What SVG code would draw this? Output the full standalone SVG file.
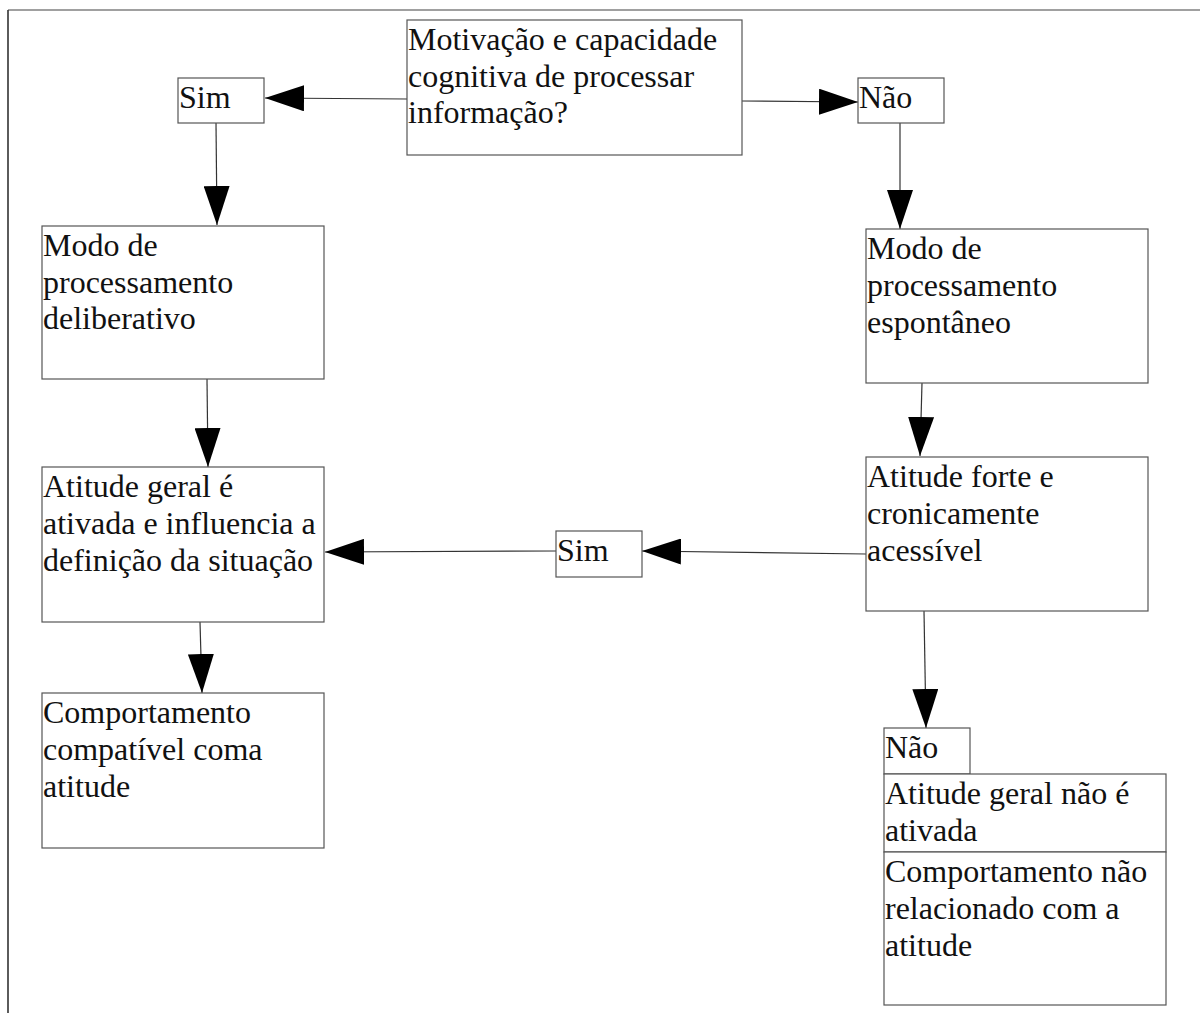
<svg xmlns="http://www.w3.org/2000/svg" width="1200" height="1013" viewBox="0 0 1200 1013">
<style>
.box{fill:#fff;stroke:#555;stroke-width:1.2}
.t{font-family:"Liberation Serif","Times New Roman",serif;font-size:32px;fill:#111}
.c{fill:none;stroke:#333;stroke-width:1.2}
.frame{fill:none;stroke-width:1.6}
</style>
<defs>
<marker id="ah" viewBox="0 0 39 26" refX="39" refY="13" markerWidth="39" markerHeight="26" markerUnits="userSpaceOnUse" orient="auto">
<polygon points="0,0 39,13 0,26" fill="#000"/>
</marker>
</defs>
<line class="frame" x1="8" y1="10" x2="1200" y2="10" stroke="#808080"/>
<line class="frame" x1="8" y1="10" x2="8" y2="1013" stroke="#333"/>
<g id="connectors">
<line class="c" x1="407" y1="99" x2="265" y2="98" marker-end="url(#ah)"/>
<line class="c" x1="742" y1="101" x2="858" y2="102" marker-end="url(#ah)"/>
<line class="c" x1="216" y1="123" x2="217" y2="225" marker-end="url(#ah)"/>
<line class="c" x1="900" y1="123" x2="900" y2="229" marker-end="url(#ah)"/>
<line class="c" x1="207" y1="379" x2="208" y2="467" marker-end="url(#ah)"/>
<line class="c" x1="922" y1="383" x2="920" y2="456" marker-end="url(#ah)"/>
<line class="c" x1="866" y1="554" x2="642" y2="551" marker-end="url(#ah)"/>
<line class="c" x1="556" y1="551" x2="325" y2="552" marker-end="url(#ah)"/>
<line class="c" x1="200" y1="622" x2="202" y2="693" marker-end="url(#ah)"/>
<line class="c" x1="924" y1="611" x2="926" y2="728" marker-end="url(#ah)"/>
</g>
<g id="n-question">
<rect class="box" x="407" y="20" width="335" height="135"/>
<text class="t" x="408" y="50">Motivação e capacidade</text>
<text class="t" x="408" y="87">cognitiva de processar</text>
<text class="t" x="408" y="123">informação?</text>
</g>
<g id="n-sim1">
<rect class="box" x="178" y="78" width="86" height="45"/>
<text class="t" x="179" y="108">Sim</text>
</g>
<g id="n-nao1">
<rect class="box" x="858" y="78" width="86" height="45"/>
<text class="t" x="859" y="108">Não</text>
</g>
<g id="n-deliberativo">
<rect class="box" x="42" y="226" width="282" height="153"/>
<text class="t" x="43" y="256">Modo de</text>
<text class="t" x="43" y="293">processamento</text>
<text class="t" x="43" y="329">deliberativo</text>
</g>
<g id="n-espontaneo">
<rect class="box" x="866" y="229" width="282" height="154"/>
<text class="t" x="867" y="259">Modo de</text>
<text class="t" x="867" y="296">processamento</text>
<text class="t" x="867" y="333">espontâneo</text>
</g>
<g id="n-atitude-geral">
<rect class="box" x="42" y="467" width="282" height="155"/>
<text class="t" x="43" y="497">Atitude geral é</text>
<text class="t" x="43" y="534">ativada e influencia a</text>
<text class="t" x="43" y="571">definição da situação</text>
</g>
<g id="n-atitude-forte">
<rect class="box" x="866" y="457" width="282" height="154"/>
<text class="t" x="867" y="487">Atitude forte e</text>
<text class="t" x="867" y="524">cronicamente</text>
<text class="t" x="867" y="561">acessível</text>
</g>
<g id="n-sim2">
<rect class="box" x="556" y="531" width="86" height="46"/>
<text class="t" x="557" y="561">Sim</text>
</g>
<g id="n-comp-compativel">
<rect class="box" x="42" y="693" width="282" height="155"/>
<text class="t" x="43" y="723">Comportamento</text>
<text class="t" x="43" y="760">compatível coma</text>
<text class="t" x="43" y="797">atitude</text>
</g>
<g id="n-nao2">
<rect class="box" x="884" y="728" width="86" height="46"/>
<text class="t" x="885" y="758">Não</text>
</g>
<g id="n-nao-ativada">
<rect class="box" x="884" y="774" width="282" height="78"/>
<text class="t" x="885" y="804">Atitude geral não é</text>
<text class="t" x="885" y="841">ativada</text>
</g>
<g id="n-comp-nao-rel">
<rect class="box" x="884" y="852" width="282" height="153"/>
<text class="t" x="885" y="882">Comportamento não</text>
<text class="t" x="885" y="919">relacionado com a</text>
<text class="t" x="885" y="956">atitude</text>
</g>
</svg>
